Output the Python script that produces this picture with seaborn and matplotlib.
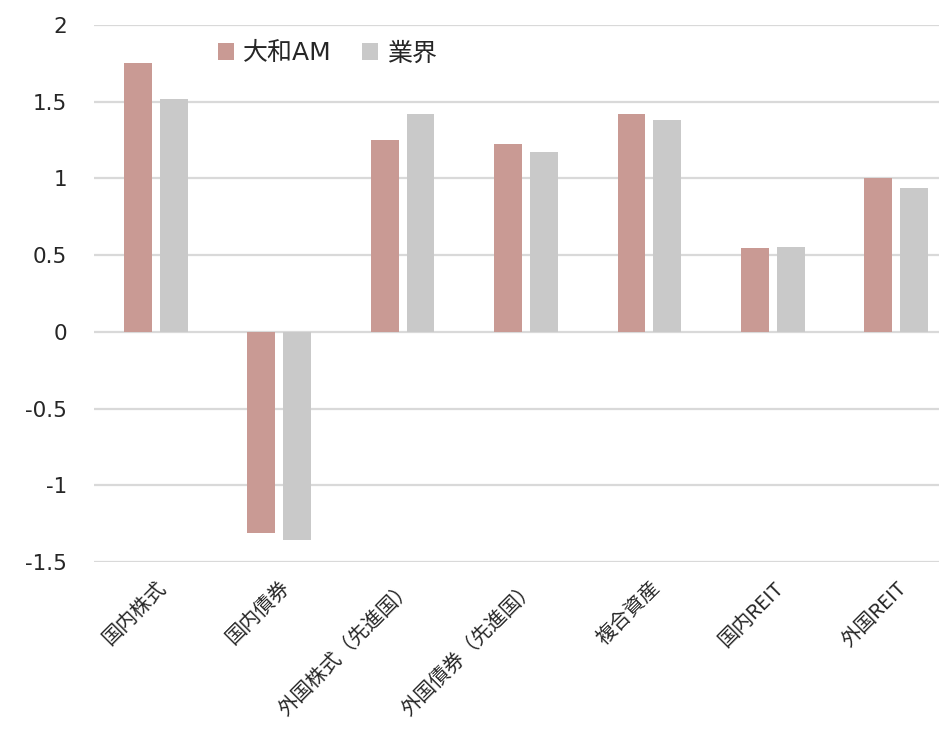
import pandas as pd
import matplotlib
matplotlib.use('Agg')
import matplotlib.pyplot as plt
import seaborn as sns

# データ
categories = ['国内株式', '国内債券', '外国株式（先進国）', '外国債券（先進国）', '複合資産', '国内REIT', '外国REIT']
daiwa = [1.75, -1.31, 1.25, 1.225, 1.42, 0.547, 1.0]
gyokai = [1.52, -1.355, 1.42, 1.17, 1.38, 0.554, 0.94]
series_names = ['大和AM', '業界']
colors = ['#c99a94', '#c9c9c9']

df = pd.DataFrame({
    'カテゴリ': categories * 2,
    '値': daiwa + gyokai,
    '系列': [series_names[0]] * len(categories) + [series_names[1]] * len(categories),
})

sns.set_style('white')
plt.rcParams['font.family'] = ['DejaVu Sans', 'Noto Sans CJK JP']

fig = plt.figure(figsize=(9.39, 7.29), dpi=100)
ax = fig.add_axes([94 / 939, 1 - 562 / 729, 864 / 939, (562 - 25) / 729])

sns.barplot(data=df, x='カテゴリ', y='値', hue='系列', palette=colors, saturation=1,
            width=0.58, gap=0.22, ax=ax, legend=True, edgecolor='none', linewidth=0)

ax.set_ylim(-1.5, 2)
ax.set_yticks([-1.5, -1, -0.5, 0, 0.5, 1, 1.5, 2])
ax.set_yticklabels(['-1.5', '-1', '-0.5', '0', '0.5', '1', '1.5', '2'], fontsize=15.5)
ax.yaxis.grid(True, color='#d9d9d9', linewidth=1.6)
ax.set_axisbelow(True)
for s in ax.spines.values():
    s.set_visible(False)
ax.tick_params(axis='y', length=0, pad=19.5)
ax.tick_params(axis='x', length=0, pad=11)
ax.set_xlabel('')
ax.set_ylabel('')
plt.setp(ax.get_xticklabels(), rotation=45, ha='right', rotation_mode='anchor',
         fontsize=14.5, family=['Noto Sans CJK JP', 'DejaVu Sans'])

leg = ax.legend(loc='center left', bbox_to_anchor=(0.143, 0.947), ncol=2, frameon=False,
                borderpad=0, borderaxespad=0, handlelength=0.65, handleheight=0.65,
                handletextpad=0.37, columnspacing=1.2,
                prop={'family': ['DejaVu Sans', 'Noto Sans CJK JP'], 'size': 18})

fig.savefig('out.png', dpi=100)
